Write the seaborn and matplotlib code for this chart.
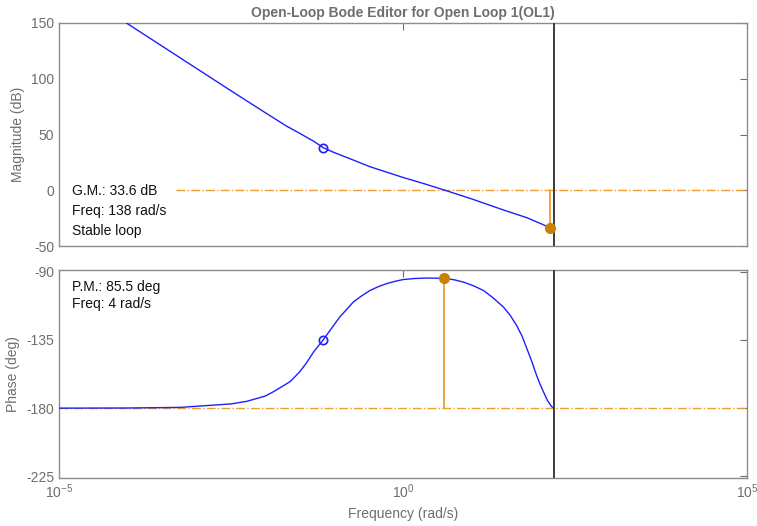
import numpy as np
import pandas as pd
import matplotlib
matplotlib.use("Agg")
import matplotlib.pyplot as plt
import seaborn as sns

# ---- data ----
mag_logw = [-4.02, -3.6, -3.19, -2.8, -2.47, -2.0, -1.7, -1.5, -1.3, -1.16, -1.0,
            -0.8, -0.48, 0.0, 0.3, 0.61, 1.0, 1.46, 1.8, 2.14, 2.196]
mag_db = [150.0, 133.2, 116.8, 101.2, 88.0, 69.5, 57.8, 51.0, 44.0, 38.2, 33.8,
          29.0, 21.1, 11.5, 6.0, 0.0, -7.8, -17.7, -24.6, -33.6, -35.0]

ph_logw = [-5.0, -4.0, -3.24, -2.5, -2.27, -2.0, -1.88, -1.64, -1.5, -1.4, -1.3, -1.16,
           -1.0, -0.92, -0.8, -0.72, -0.6, -0.48, -0.36, -0.24, -0.12, 0.0, 0.17, 0.34,
           0.48, 0.61, 0.75, 0.88, 1.02, 1.17, 1.3, 1.46, 1.56, 1.65, 1.73, 1.80, 1.87,
           1.94, 1.99, 2.04, 2.10, 2.16, 2.196]
ph_deg = [-180.0, -179.9, -179.5, -177.2, -175.5, -172.0, -169.1, -162.5, -156.0, -150.0,
          -143.0, -135.0, -125.0, -120.0, -114.0, -110.0, -106.0, -102.5, -100.0, -98.0,
          -96.5, -95.3, -94.6, -94.3, -94.4, -94.5, -95.5, -97.0, -99.3, -102.5, -107.0,
          -113.4, -119.0, -125.4, -132.5, -140.7, -149.0, -158.2, -164.0, -169.1, -175.0,
          -179.0, -180.0]

zero_w = 0.069
zero_mag = 38.2
zero_ph = -135.0
gm_w, gm_db = 138.0, -33.6
pm_w, pm_deg = 4.0, -94.5
nyq_w = 157.0

title = "Open-Loop Bode Editor for Open Loop 1(OL1)"
gm_text = ["G.M.: 33.6 dB", "Freq: 138 rad/s", "Stable loop"]
pm_text = ["P.M.: 85.5 deg", "Freq: 4 rad/s"]

mag_df = pd.DataFrame({"w": 10 ** np.array(mag_logw), "mag": mag_db})
ph_df = pd.DataFrame({"w": 10 ** np.array(ph_logw), "ph": ph_deg})

sns.set_style("white")
plt.rcParams["font.family"] = ["Liberation Sans", "DejaVu Sans"]
plt.rcParams["axes.unicode_minus"] = False

GRAY = "#6e6e6e"
SP = "#8c8c8c"
BLUE = "#1f1fff"
ORL = "#E8A035"
ORD = "#CC7F00"

fig = plt.figure(figsize=(7.57, 5.26), dpi=100)
ax1 = fig.add_axes([59 / 757, 1 - 246 / 526, (747 - 59) / 757, (246 - 23) / 526])
ax2 = fig.add_axes([59 / 757, 1 - 478 / 526, (747 - 59) / 757, (478 - 270) / 526])

for ax in (ax1, ax2):
    ax.set_xscale("log")
    ax.set_xlim(1e-5, 1e5)
    ax.set_xticks([1e-5, 1e0, 1e5])
    ax.minorticks_off()
    ax.tick_params(direction="in", top=True, right=True, colors=GRAY, labelsize=10,
                   length=5, width=0.8, labelcolor=GRAY)
    for s in ax.spines.values():
        s.set_color(SP)
        s.set_linewidth(1.0)
    ax.axvline(nyq_w, color="#3c3c3c", lw=1.4, zorder=4)

# magnitude
ax1.axhline(0, xmin=0.17, color=ORL, lw=1.0, ls="-.", zorder=1)
sns.lineplot(data=mag_df, x="w", y="mag", ax=ax1, color=BLUE, lw=1.0, zorder=3)
ax1.plot([zero_w], [zero_mag], "o", mfc="none", mec=BLUE, ms=6, mew=1.2, zorder=5)
ax1.plot([gm_w, gm_w], [0, gm_db], color=ORL, lw=1.3, zorder=3)
ax1.plot([gm_w], [gm_db], "o", color=ORD, ms=7, zorder=6)
ax1.set_ylim(-50, 150)
ax1.set_yticks([-50, 0, 50, 100, 150])
ax1.set_xticklabels([])
ax1.set_xlabel("")
ax1.set_ylabel("Magnitude (dB)", color=GRAY, fontsize=10)
ax1.set_title(title, color=GRAY, fontsize=10, fontweight="bold", pad=4)
for i, t in enumerate(gm_text):
    ax1.text(0.019, 0.245 - i * 0.088, t, transform=ax1.transAxes, fontsize=10,
             color="#111111", va="center")

# phase
ax2.axhline(-180, color=ORL, lw=1.0, ls="-.", zorder=1)
sns.lineplot(data=ph_df, x="w", y="ph", ax=ax2, color=BLUE, lw=1.0, zorder=3)
ax2.plot([zero_w], [zero_ph], "o", mfc="none", mec=BLUE, ms=6, mew=1.2, zorder=5)
ax2.plot([pm_w, pm_w], [-180, pm_deg], color=ORL, lw=1.3, zorder=3)
ax2.plot([pm_w], [pm_deg], "o", color=ORD, ms=7, zorder=6)
ax2.set_ylim(-226, -89)
ax2.set_yticks([-225, -180, -135, -90])
ax2.set_ylabel("Phase (deg)", color=GRAY, fontsize=10)
ax2.set_xlabel("Frequency (rad/s)", color=GRAY, fontsize=10)
for i, t in enumerate(pm_text):
    ax2.text(0.019, 0.92 - i * 0.085, t, transform=ax2.transAxes, fontsize=10,
             color="#111111", va="center")

fig.savefig("out.png", dpi=100)
